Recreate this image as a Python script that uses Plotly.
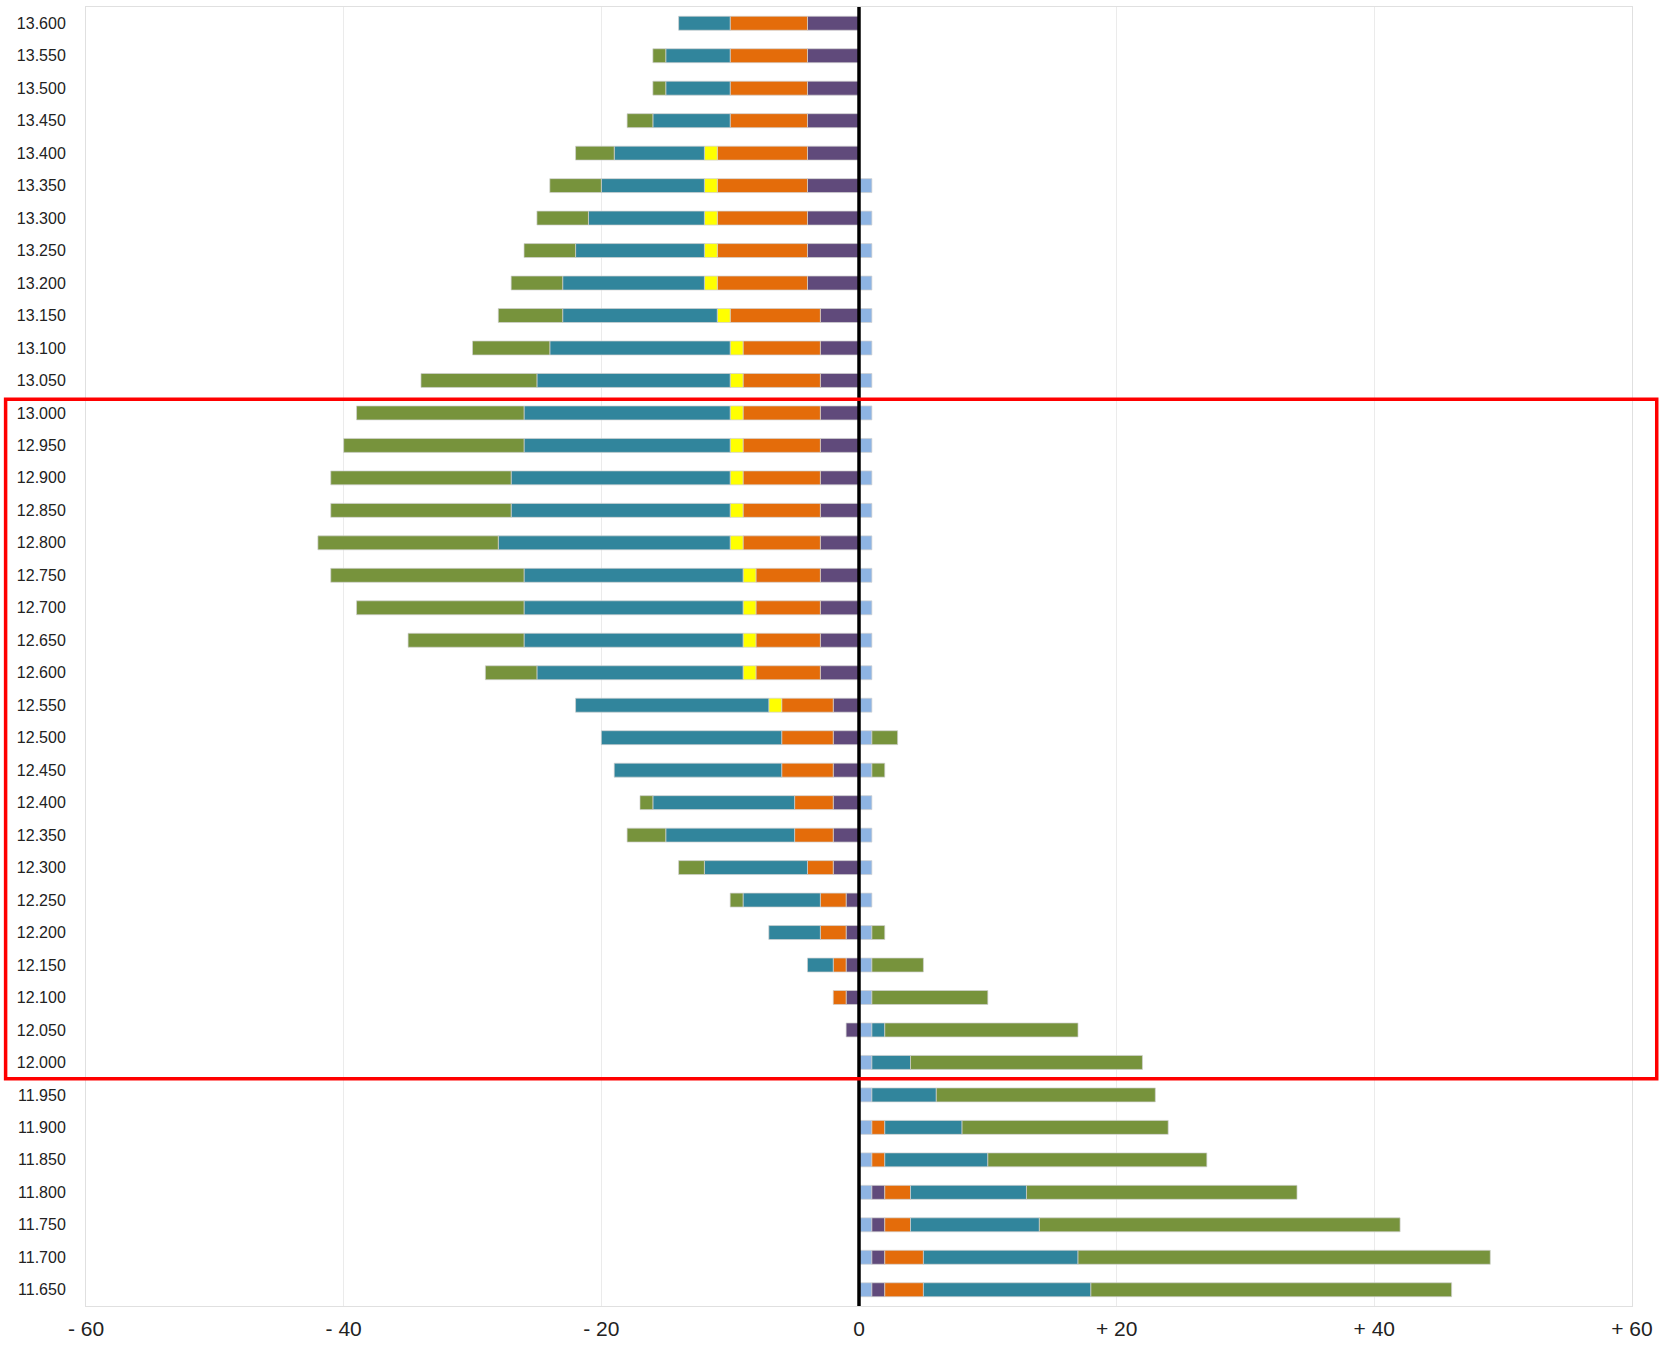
import plotly.graph_objects as go

# Categories listed top to bottom
categories = ["13.600", "13.550", "13.500", "13.450", "13.400", "13.350", "13.300", "13.250",
              "13.200", "13.150", "13.100", "13.050", "13.000", "12.950", "12.900", "12.850",
              "12.800", "12.750", "12.700", "12.650", "12.600", "12.550", "12.500", "12.450",
              "12.400", "12.350", "12.300", "12.250", "12.200", "12.150", "12.100", "12.050",
              "12.000", "11.950", "11.900", "11.850", "11.800", "11.750", "11.700", "11.650"]

light_blue = [0, 0, 0, 0, 0, 1, 1, 1, 1, 1, 1, 1, 1, 1, 1, 1, 1, 1, 1, 1,
              1, 1, 1, 1, 1, 1, 1, 1, 1, 1, 1, 1, 1, 1, 1, 1, 1, 1, 1, 1]
purple = [-4, -4, -4, -4, -4, -4, -4, -4, -4, -3, -3, -3, -3, -3, -3, -3, -3, -3, -3, -3,
          -3, -2, -2, -2, -2, -2, -2, -1, -1, -1, -1, -1, 0, 0, 0, 0, 1, 1, 1, 1]
orange = [-6, -6, -6, -6, -7, -7, -7, -7, -7, -7, -6, -6, -6, -6, -6, -6, -6, -5, -5, -5,
          -5, -4, -4, -4, -3, -3, -2, -2, -2, -1, -1, 0, 0, 0, 1, 1, 2, 2, 3, 3]
yellow = [0, 0, 0, 0, -1, -1, -1, -1, -1, -1, -1, -1, -1, -1, -1, -1, -1, -1, -1, -1,
          -1, -1, 0, 0, 0, 0, 0, 0, 0, 0, 0, 0, 0, 0, 0, 0, 0, 0, 0, 0]
teal = [-4, -5, -5, -6, -7, -8, -9, -10, -11, -12, -14, -15, -16, -16, -17, -17, -18, -17, -17, -17,
        -16, -15, -14, -13, -11, -10, -8, -6, -4, -2, 0, 1, 3, 5, 6, 8, 9, 10, 12, 13]
green = [0, -1, -1, -2, -3, -4, -4, -4, -4, -5, -6, -9, -13, -14, -14, -14, -14, -15, -13, -9,
         -4, 0, 2, 1, -1, -3, -2, -1, 1, 4, 9, 15, 18, 17, 16, 17, 21, 28, 32, 28]

x_tickvals = [-60, -40, -20, 0, 20, 40, 60]
x_ticktext = ["- 60", "- 40", "- 20", "0", "+ 20", "+ 40", "+ 60"]

series = [
    ("light blue", light_blue, "#8EB4E3"),
    ("purple", purple, "#604A7B"),
    ("orange", orange, "#E46C0A"),
    ("yellow", yellow, "#FFFF00"),
    ("teal", teal, "#31859C"),
    ("green", green, "#77933C"),
]

fig = go.Figure()
for name, vals, color in series:
    fig.add_trace(go.Bar(
        y=categories,
        x=[v if v != 0 else None for v in vals],
        name=name,
        orientation="h",
        marker=dict(color=color, line=dict(color="rgba(210,210,210,0.7)", width=1)),
        hoverinfo="x+y+name",
    ))

n = len(categories)
top_idx = categories.index("13.000")
bot_idx = categories.index("12.000")

fig.update_layout(
    barmode="relative",
    bargap=0.57,
    width=1663,
    height=1346,
    margin=dict(l=86, r=31, t=6, b=31),
    plot_bgcolor="white",
    paper_bgcolor="white",
    showlegend=False,
    font=dict(family="Liberation Sans, Arial, sans-serif", color="#222222"),
    xaxis=dict(
        range=[-60, 60],
        tickvals=x_tickvals,
        ticktext=x_ticktext,
        showgrid=True,
        gridcolor="#ebebeb",
        gridwidth=1,
        zeroline=False,
        showline=True,
        linecolor="#e0e0e0",
        mirror=True,
        tickfont=dict(size=21, color="#222222"),
        ticklabelstandoff=4,
    ),
    yaxis=dict(
        type="category",
        categoryorder="array",
        categoryarray=categories,
        autorange="reversed",
        showgrid=False,
        showline=True,
        linecolor="#e0e0e0",
        mirror=True,
        tickfont=dict(size=16, color="#222222"),
        ticklabelstandoff=16,
    ),
    shapes=[
        dict(type="line", xref="x", yref="paper", x0=0, x1=0, y0=0, y1=1,
             line=dict(color="black", width=3.5), layer="above"),
        dict(type="rect", xref="paper", yref="paper",
             x0=-0.052, x1=1.016,
             y0=1 - (bot_idx + 1.0) / n, y1=1 - (top_idx + 0.08) / n,
             line=dict(color="#FF0000", width=3.5), fillcolor="rgba(0,0,0,0)", layer="above"),
    ],
)

fig.write_html(
    "out.html",
    config={"displayModeBar": False},
    post_script="document.body.style.margin='0';document.body.style.overflow='hidden';",
)
